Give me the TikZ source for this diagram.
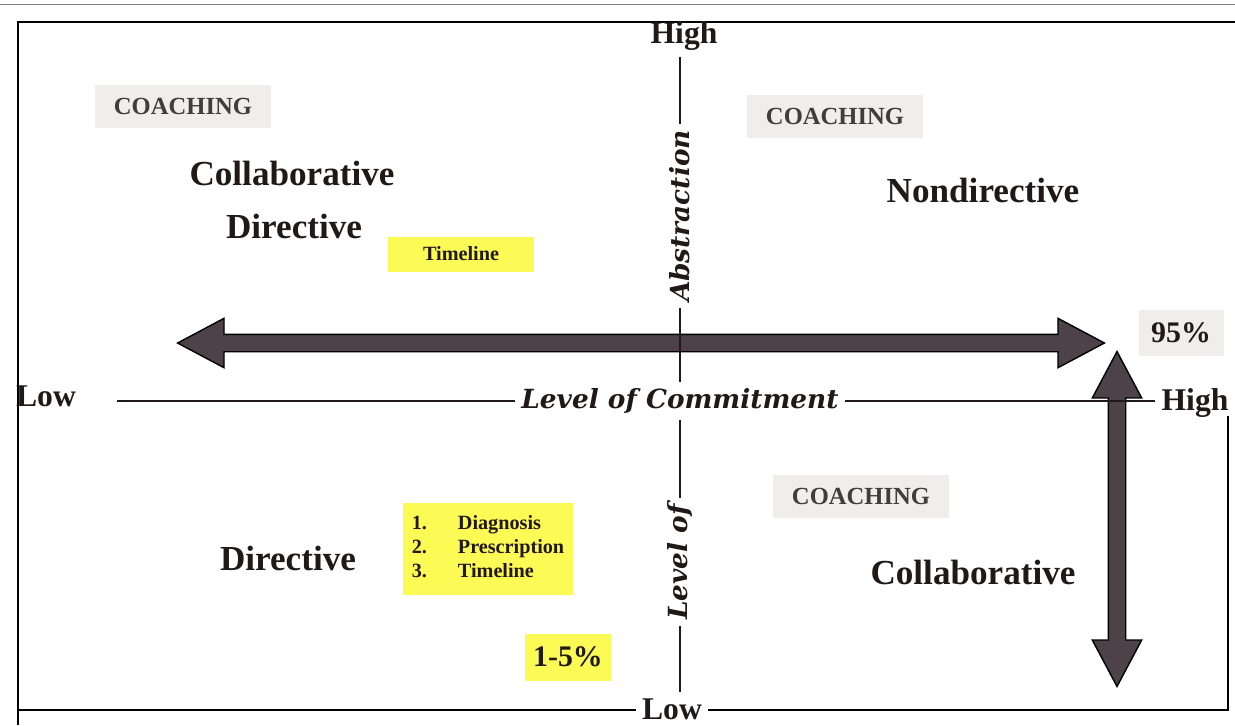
\documentclass[tikz,border=0pt]{standalone}
\usepackage{fontspec}
\setmainfont{Liberation Serif}
\newfontfamily\axisfont{DejaVu Serif}
\usepackage{tikz}
\usetikzlibrary{positioning}
\usetikzlibrary{shapes.arrows}
\definecolor{ink}{rgb}{0.13,0.10,0.10}
\definecolor{arrowgray}{rgb}{0.30,0.26,0.28}
\definecolor{boxgray}{rgb}{0.94,0.93,0.93}
\definecolor{marker}{rgb}{0.99,0.98,0.33}

\begin{document}
\begin{tikzpicture}[x=0.02cm, y=-0.02cm,
    every node/.style = {text=ink, font=\bfseries},
    coaching/.style = {fill=boxgray, text=ink!85, font=\fontsize{14}{16}\selectfont\bfseries,
                       minimum width=3.54cm, minimum height=0.86cm},
    approach/.style = {font=\fontsize{20}{22}\selectfont\bfseries},
    highlight/.style = {fill=marker, font=\fontsize{11.5}{13.6}\selectfont\bfseries},
    axislabel/.style = {font=\axisfont\fontsize{15}{17}\selectfont\bfseries\itshape},
    endlabel/.style = {font=\fontsize{18}{20}\selectfont\bfseries},
    fatarrow/.style = {shape=double arrow, fill=arrowgray, draw=black, thick,
                       inner xsep=0pt, inner ysep=0.16cm,
                       double arrow head extend=0.32cm, double arrow tip angle=56},
    axisline/.style = {line width=1.2pt, draw=ink}
  ]
  \useasboundingbox (0,0) rectangle (1235,725);

  % frame
  \draw[thin, gray] (0,4) -- (1235,4);
  \draw[line width=1.4pt] (1235,22) -- (18,22) -- (18,725);

  % fat arrows
  \node[fatarrow, minimum height=18.54cm] (spread) at (641,343) {};
  \node[fatarrow, minimum height=6.7cm, rotate=90] (range) at (1117,519) {};

  % axes
  \node[endlabel] (abshigh) at (684,36) {High};
  \node[endlabel] (abslow) at (672,709) {Low};
  \node[axislabel, rotate=90] (abstraction) at (680,216) {Abstraction};
  \node[axislabel, rotate=90] (levelof) at (680,562) {Level of};
  \node[endlabel] (comlow) at (46,396) {Low};
  \node[endlabel] (comhigh) at (1195,403) {High};
  \node[axislabel] (commitment) at (680,401) {Level of Commitment};

  \draw[axisline] (abshigh.south -| abstraction.east) -- (abstraction.east);
  \draw[axisline] (abstraction.west) -- (abstraction.west |- commitment.north);
  \draw[axisline] (levelof.east |- commitment.south) -- (levelof.east);
  \draw[axisline] (levelof.west) -- (levelof.west |- abslow.north);
  \draw[axisline] ([xshift=0.7cm]comlow.east |- commitment) -- (commitment.west);
  \draw[axisline] (commitment.east) -- (comhigh.west |- commitment);

  \draw[line width=1.4pt] (18,710) -- (abslow.west |- 0,710);
  \draw[line width=1.4pt] (abslow.east |- 0,710) -- (1228,710) -- (1228,416);

  % quadrants
  \node[coaching] (coachtl) at (183,106) {COACHING};
  \node[coaching] (coachtr) at (835,116) {COACHING};
  \node[coaching] (coachbr) at (861,496) {COACHING};
  \node[approach] (collabtl) at (292,173) {Collaborative};
  \node[approach] (directtl) at (294,226) {Directive};
  \node[approach] (nondirect) at (983,190) {Nondirective};
  \node[approach] (directbl) at (288,558) {Directive};
  \node[approach] (collabbr) at (973,572) {Collaborative};

  \node[highlight, minimum width=2.94cm, minimum height=0.7cm] (timeline) at (461,254) {Timeline};
  \node[highlight, minimum width=3.42cm, minimum height=1.84cm] (steps) at (488,549)
    {\begin{tabular}{@{}l@{\hspace{0.62cm}}l@{}}
       1. & Diagnosis\\
       2. & Prescription\\
       3. & Timeline
     \end{tabular}};
  \node[highlight, font=\fontsize{17}{19}\selectfont\bfseries,
        minimum width=1.74cm, minimum height=0.94cm] (lowshare) at (568,657) {1-5\%};
  \node[fill=boxgray, font=\fontsize{17}{19}\selectfont\bfseries,
        minimum width=1.7cm, minimum height=0.92cm] (highshare) at (1181,333) {95\%};
\end{tikzpicture}
\end{document}
